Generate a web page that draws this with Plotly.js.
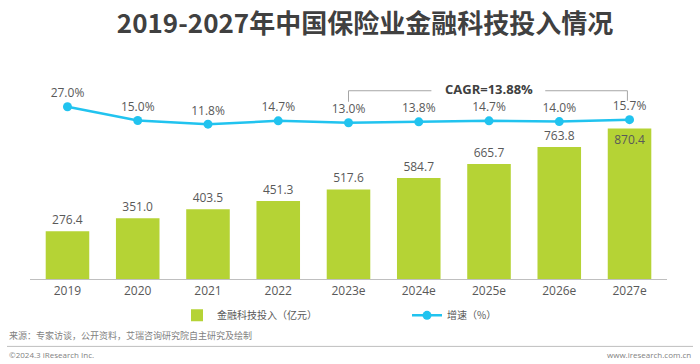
<!DOCTYPE html>
<html>
<head>
<meta charset="utf-8">
<script src="https://cdn.plot.ly/plotly-3.0.1.min.js"></script>
<style>html,body{margin:0;padding:0;background:#fff;}#chart{width:700px;height:364px;}</style>
</head>
<body>
<div id="chart"></div>
<script>
const years = ['2019','2020','2021','2022','2023e','2024e','2025e','2026e','2027e'];
const investment = [276.4, 351.0, 403.5, 451.3, 517.6, 584.7, 665.7, 763.8, 870.4];
const growth = [27.0, 15.0, 11.8, 14.7, 13.0, 13.8, 14.7, 14.0, 15.7];
const barName = '金融科技投入（亿元）';
const lineName = '增速（%）';
const titleText = '2019-2027年中国保险业金融科技投入情况';
const cagrText = 'CAGR=13.88%';
const sourceText = '来源：专家访谈，公开资料，艾瑞咨询研究院自主研究及绘制';
const copyText = '©2024.3 iResearch Inc.';
const siteText = 'www.iresearch.com.cn';

const FONT = "'Open Sans', 'Noto Sans CJK SC', sans-serif";
const CJK = "'Noto Sans CJK SC', sans-serif";
const GRAY = '#595959';

const barPos = investment.map((v, i) => i === investment.length - 1 ? 'inside' : 'outside');

const traces = [
  {
    type: 'bar', x: years, y: investment, name: barName,
    marker: {color: '#b5d335'},
    texttemplate: '%{y:.1f}', textposition: barPos, insidetextanchor: 'end',
    textfont: {family: FONT, size: 12, color: GRAY},
    insidetextfont: {family: FONT, size: 12, color: GRAY},
    outsidetextfont: {family: FONT, size: 12, color: GRAY},
    cliponaxis: false, hoverinfo: 'skip'
  },
  {
    type: 'scatter', x: years, y: growth, name: lineName, yaxis: 'y2',
    mode: 'lines+markers+text',
    line: {color: '#21c3ef', width: 2.5},
    marker: {color: '#21c3ef', size: 9},
    texttemplate: '%{y:.1f}%', textposition: 'top center',
    textfont: {family: FONT, size: 12, color: GRAY},
    cliponaxis: false, hoverinfo: 'skip'
  }
];

const pyTop = 60, pyBot = 278.7, pH = pyBot - pyTop;
const pxL = 30, pxR = 667, pW = pxR - pxL;
const py = p => (pyBot - p) / pH;
const px = p => (p - pxL) / pW;

const layout = {
  width: 700, height: 364,
  margin: {l: pxL, r: 700 - pxR, t: pyTop, b: 364 - pyBot},
  paper_bgcolor: '#ffffff', plot_bgcolor: '#ffffff',
  font: {family: FONT, color: GRAY, size: 12},
  title: {
    text: '<b>' + titleText + '</b>', xref: 'container', yref: 'container',
    x: 365 / 700, xanchor: 'center', y: 1 - 24 / 364, yanchor: 'middle',
    font: {family: CJK, size: 26, color: '#404040'}
  },
  bargap: 0.38,
  showlegend: true,
  legend: {
    orientation: 'h', x: px(177), xanchor: 'left', y: py(315), yanchor: 'middle',
    font: {family: CJK, size: 10, color: GRAY},
    entrywidth: 185, entrywidthmode: 'pixels', traceorder: 'normal',
    bgcolor: 'rgba(0,0,0,0)'
  },
  xaxis: {
    type: 'category', showgrid: false, zeroline: false,
    showline: true, linecolor: '#bfbfbf', linewidth: 1.3,
    ticks: '', tickfont: {family: FONT, size: 12, color: GRAY}
  },
  yaxis: {range: [0, pH / 0.1727], visible: false, showgrid: false, zeroline: false},
  yaxis2: {
    overlaying: 'y', side: 'right', visible: false, showgrid: false, zeroline: false,
    range: [(137.5 - pyBot) / 1.14, (137.5 - pyTop) / 1.14]
  },
  shapes: [
    {type: 'path', xref: 'x', yref: 'paper',
     path: 'M4,' + py(101.7) + ' L4,' + py(90.7) + ' L5.18,' + py(90.7),
     line: {color: '#a6a6a6', width: 1}},
    {type: 'path', xref: 'x', yref: 'paper',
     path: 'M6.80,' + py(90.7) + ' L7.97,' + py(90.7) + ' L7.97,' + py(100.7),
     line: {color: '#a6a6a6', width: 1}},
    {type: 'line', xref: 'paper', yref: 'paper',
     x0: px(7), x1: px(693), y0: py(346), y1: py(346),
     line: {color: '#bfbfbf', width: 1}}
  ],
  annotations: [
    {text: '<b>' + cagrText + '</b>', xref: 'x', yref: 'paper', x: '2025e', y: py(89),
     xanchor: 'center', yanchor: 'middle', showarrow: false,
     font: {family: FONT, size: 13, color: '#404040'}},
    {text: sourceText, xref: 'paper', yref: 'paper', x: px(7), y: py(335),
     xanchor: 'left', yanchor: 'middle', showarrow: false,
     font: {family: CJK, size: 9, color: '#7f7f7f'}},
    {text: copyText, xref: 'paper', yref: 'paper', x: px(7), y: py(354),
     xanchor: 'left', yanchor: 'middle', showarrow: false,
     font: {family: FONT, size: 8, color: '#7f7f7f'}},
    {text: siteText, xref: 'paper', yref: 'paper', x: px(693), y: py(354),
     xanchor: 'right', yanchor: 'middle', showarrow: false,
     font: {family: FONT, size: 8, color: '#7f7f7f'}}
  ]
};

Plotly.newPlot('chart', traces, layout, {displayModeBar: false, staticPlot: true});
</script>
</body>
</html>
